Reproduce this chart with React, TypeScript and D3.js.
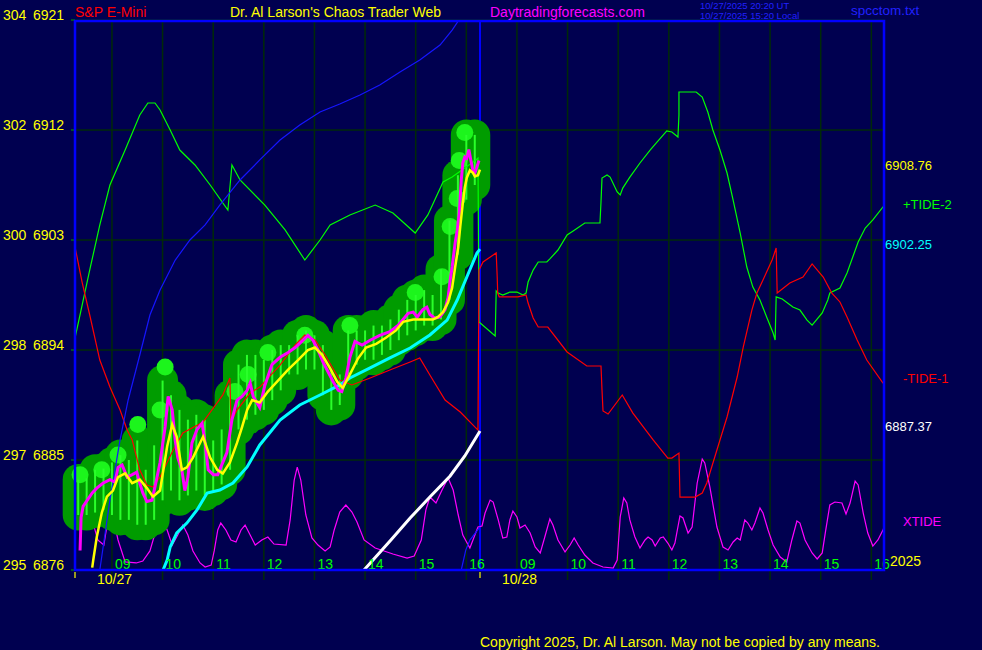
import React from 'react';
import * as d3 from 'd3';

// ---------- layout ----------
const W = 982, H = 650;
const L = 75, R = 885, T = 20, B = 570, BRK = 480;

// ---------- axes ----------
// time = clock hours; 10/28 hours carry +24
const sessionStops = [8.27, 16.27, 32.27, 40.27];
const priceDomain = [6876, 6921];
const gridPrices = [6876, 6885, 6894, 6903, 6912, 6921];
const etfLabels = ['295', '297', '298', '300', '302', '304'];
const hourTicks = [9, 10, 11, 12, 13, 14, 15, 16, 33, 34, 35, 36, 37, 38, 39, 40];
const hourLabels = ['09', '10', '11', '12', '13', '14', '15', '16', '09', '10', '11', '12', '13', '14', '15', '16'];
const dayLabels = [{ t: 8.27, s: '10/27' }, { t: 32.27, s: '10/28' }];

// ---------- price bars (10 min) ----------
const barTimes = ['08:20','08:30','08:40','08:50','09:00','09:10','09:20','09:30','09:40','09:50','10:00','10:10','10:20','10:30','10:40','10:50','11:00','11:10','11:20','11:30','11:40','11:50','12:00','12:10','12:20','12:30','12:40','12:50','13:00','13:10','13:20','13:30','13:40','13:50','14:00','14:10','14:20','14:30','14:40','14:50','15:00','15:10','15:20','15:30','15:40','15:50','16:00','16:10'];
const barHigh = [6883.4,6883.5,6884.2,6884.3,6884.8,6885.4,6885.0,6886.6,6884.2,6886.2,
  6891.5,6890.3,6889.1,6888.3,6888.7,6888.3,6886.6,6887.5,6890.3,6892.8,
  6893.6,6893.6,6893.2,6894.0,6894.4,6894.4,6895.2,6895.6,6895.2,6894.4,
  6892.4,6892.0,6895.6,6895.6,6895.6,6896.0,6896.0,6896.5,6897.3,6898.1,
  6898.5,6898.9,6898.5,6900.6,6904.6,6908.3,6911.6,6911.6];
const barLow = [6880.5,6880.5,6880.7,6880.9,6880.5,6880.1,6880.1,6879.7,6879.7,6880.1,
  6881.7,6882.5,6881.7,6882.1,6882.5,6882.1,6882.5,6883.0,6884.2,6887.5,
  6888.3,6888.7,6889.1,6889.9,6890.7,6892.0,6892.0,6892.4,6892.4,6890.3,
  6889.1,6889.5,6892.0,6892.8,6893.2,6893.2,6893.6,6894.0,6894.8,6895.2,
  6895.6,6896.0,6896.0,6896.5,6898.1,6901.8,6906.3,6907.5];
const peakMarks: [number, number][] = [[8.37,6883.8],[8.80,6884.2],[9.12,6885.4],[9.51,6887.9],[9.95,6889.1],[10.05,6892.6],[11.43,6890.6],[11.69,6892.0],[12.08,6893.8],[12.81,6895.2],[13.70,6896.0],[14.99,6898.7],[15.52,6900.0],[15.68,6904.1],[15.82,6906.4],[15.86,6909.5],[15.97,6911.8]];

// ---------- price close (magenta) ----------
const closeSeries: [number, number][] = [[8.37,6877.6],[8.39,6880.3],[8.43,6881.2],[8.51,6881.7],[8.61,6882.3],[8.70,6882.7],[8.82,6883.1],[8.96,6883.4],[9.06,6883.2],[9.12,6884.4],[9.20,6884.6],[9.30,6883.6],[9.40,6883.8],[9.49,6884.0],[9.55,6883.1],[9.61,6882.3],[9.69,6881.6],[9.79,6881.7],[9.85,6882.8],[9.95,6884.8],[10.05,6887.7],[10.11,6890.2],[10.19,6889.1],[10.25,6886.6],[10.30,6885.2],[10.38,6884.2],[10.44,6882.5],[10.50,6883.6],[10.58,6886.4],[10.68,6887.5],[10.78,6888.0],[10.84,6886.4],[10.90,6884.2],[11.00,6883.8],[11.09,6883.8],[11.19,6884.8],[11.27,6885.6],[11.37,6888.3],[11.47,6889.9],[11.57,6890.2],[11.67,6890.7],[11.73,6891.3],[11.79,6890.2],[11.92,6889.3],
  [12.02,6891.1],[12.16,6892.8],[12.32,6893.4],[12.48,6893.8],[12.62,6894.2],[12.75,6894.7],[12.87,6895.2],[12.97,6894.8],[13.07,6894.0],[13.17,6893.0],[13.27,6892.2],[13.37,6891.4],[13.47,6890.7],[13.54,6890.6],[13.62,6891.7],[13.70,6893.4],[13.80,6894.7],[13.94,6894.4],[14.10,6894.8],[14.29,6895.2],[14.49,6895.5],[14.65,6896.0],[14.75,6896.5],
  [14.85,6897.0],[14.95,6897.1],[15.03,6896.7],[15.14,6897.3],[15.22,6897.5],[15.28,6896.9],[15.38,6896.6],[15.48,6896.7],[15.58,6897.3],[15.64,6898.3],[15.68,6899.7],[15.72,6900.8],[15.78,6902.8],[15.82,6903.8],[15.86,6905.2],[15.88,6906.5],[15.90,6907.9],[15.93,6909.3],[15.97,6909.8],[16.01,6909.7],[16.05,6910.4],[16.09,6909.5],[16.13,6908.7],[16.17,6908.5],[16.21,6909.0],[16.25,6909.5]];

// ---------- moving average (yellow) ----------
const avgSeries: [number, number][] = [[8.61,6876.2],[8.63,6876.8],[8.70,6878.7],[8.80,6880.7],[8.90,6882.0],[9.02,6882.5],[9.12,6883.6],[9.26,6883.9],[9.40,6883.1],[9.55,6883.4],[9.69,6882.7],[9.81,6882.0],[9.95,6882.5],[10.09,6886.1],[10.19,6887.9],[10.28,6886.9],[10.38,6884.2],[10.48,6884.4],[10.60,6885.2],[10.80,6886.9],[10.94,6885.2],[11.08,6884.2],[11.19,6883.9],[11.33,6884.8],[11.47,6886.4],[11.57,6887.7],[11.67,6889.1],[11.77,6889.9],[11.92,6889.7],[12.08,6890.6],[12.28,6891.5],[12.48,6892.4],[12.68,6893.2],[12.87,6894.0],[13.01,6894.2],[13.15,6893.6],[13.31,6892.5],[13.45,6891.4],[13.56,6890.9],[13.70,6892.0],[13.86,6893.3],[14.02,6894.2],[14.22,6894.5],[14.41,6895.0],[14.61,6895.6],[14.75,6896.3],[14.95,6896.5],[15.14,6896.5],[15.34,6896.5],[15.44,6896.7],[15.54,6897.1],[15.64,6897.9],[15.72,6899.1],[15.78,6900.8],[15.84,6902.4],[15.88,6904.1],[15.93,6906.0],[15.97,6907.3],[16.01,6908.1],[16.07,6908.7],[16.13,6908.5],[16.17,6908.2],[16.23,6908.3],[16.27,6908.76]];

// ---------- tides ----------
const tide2: [number, number][] = [[8.27,6894.98],[8.57,6900.71],[8.76,6904.23],[8.96,6907.5],[9.26,6910.36],[9.55,6913.23],[9.71,6914.21],[9.85,6914.21],[9.95,6913.64],[10.15,6912.0],[10.34,6910.36],[10.64,6909.14],[10.94,6907.5],[11.29,6905.45],[11.37,6909.14],[11.53,6907.91],[12.02,6905.86],[12.42,6903.82],[12.81,6901.36],[13.11,6903.0],[13.31,6904.23],[13.70,6905.05],[14.20,6905.86],[14.55,6905.21],[14.99,6903.57],[15.24,6905.05],[15.54,6907.75],[15.72,6908.15],[16.19,6909.55],[16.23,6909.7],[16.25,6896.3],
  [32.57,6895.15],[32.59,6898.83],[32.63,6898.66],[32.72,6898.5],[32.86,6898.74],[33.00,6898.74],[33.12,6898.5],[33.18,6898.66],[33.22,6899.56],[33.32,6900.54],[33.42,6901.2],[33.59,6901.2],[33.65,6901.45],[33.81,6902.18],[33.99,6903.41],[34.11,6903.74],[34.34,6904.39],[34.64,6904.39],[34.66,6906.11],[34.68,6908.07],[34.78,6908.32],[34.84,6908.15],[34.98,6906.93],[35.04,6906.68],[35.09,6907.25],[35.23,6908.15],[35.43,6909.3],[35.63,6910.36],[35.77,6911.02],[35.96,6911.92],[36.06,6911.84],[36.18,6911.43],[36.20,6913.23],[36.20,6915.11],[36.54,6915.11],[36.66,6914.7],[36.77,6913.47],[36.87,6912.0],[37.01,6910.36],[37.15,6908.48],[37.27,6906.27],[37.41,6903.57],[37.54,6900.79],[37.66,6899.15],[37.80,6898.09],[37.94,6896.62],[38.06,6895.39],[38.10,6894.82],[38.12,6898.34],[38.24,6898.17],[38.45,6897.52],[38.59,6897.27],[38.73,6896.45],[38.83,6896.04],[39.03,6897.03],[39.14,6898.09],[39.18,6898.66],[39.38,6899.07],[39.52,6900.3],[39.74,6902.84],[39.88,6903.98],[40.03,6904.64],[40.23,6905.7],[40.27,6905.62]];

const tide1: [number, number][] = [[8.27,6902.43],[8.41,6899.56],[8.57,6896.7],[8.76,6893.18],[8.96,6890.97],[9.16,6889.09],[9.30,6887.45],[9.40,6886.64],[9.55,6884.18],[9.69,6882.95],[9.81,6882.79],[9.95,6883.61],[10.21,6885.82],[10.40,6887.21],[10.80,6888.11],[11.19,6890.32],[11.33,6891.71],[11.35,6888.11],[11.47,6889.09],[11.73,6890.48],[11.92,6890.97],[12.32,6892.77],[12.62,6894.41],[12.81,6895.23],[13.01,6894.82],[13.21,6893.59],[13.50,6891.55],[13.74,6891.14],[14.10,6891.71],[14.49,6892.36],[14.89,6893.02],[15.08,6893.35],[15.28,6891.95],[15.58,6889.91],[15.88,6888.93],[16.23,6887.45],[16.25,6900.54],
  [32.33,6901.2],[32.59,6901.94],[32.61,6899.97],[32.62,6898.66],[32.65,6898.34],[32.80,6898.34],[33.02,6898.34],[33.18,6898.5],[33.22,6897.84],[33.32,6896.62],[33.42,6895.88],[33.61,6895.88],[33.99,6893.84],[34.38,6892.69],[34.66,6892.69],[34.68,6890.73],[34.70,6889.01],[34.80,6888.76],[35.08,6890.32],[35.29,6888.84],[35.69,6886.64],[35.98,6885.16],[36.06,6885.16],[36.20,6885.57],[36.22,6881.97],[36.52,6881.97],[36.66,6882.3],[36.75,6883.12],[36.95,6885.82],[37.15,6888.52],[37.35,6891.79],[37.47,6894.24],[37.64,6897.27],[37.74,6898.66],[37.86,6899.73],[38.04,6901.36],[38.12,6902.34],[38.14,6898.66],[38.39,6899.48],[38.65,6899.97],[38.83,6901.04],[39.05,6899.97],[39.22,6898.66],[39.38,6897.93],[39.52,6896.7],[39.72,6894.82],[39.91,6893.18],[40.23,6891.3],[40.27,6891.2]];

const blueRiseA: [number, number][] = [[8.76,6876.0],[8.96,6881.73],[9.16,6886.64],[9.32,6889.91],[9.55,6893.59],[9.75,6896.86],[9.95,6898.91],[10.25,6901.36],[10.54,6903.0],[10.84,6904.23],[11.13,6905.86],[11.53,6907.91],[11.92,6909.55],[12.32,6911.18],[12.71,6912.41],[13.11,6913.47],[13.50,6914.13],[13.90,6914.86],[14.29,6915.68],[14.69,6916.75],[15.08,6917.73],[15.48,6918.95],[15.72,6920.18],[15.88,6921.16]];
const blueRiseB: [number, number][] = [[15.90,6876.0],[15.99,6877.64],[16.07,6878.45],[16.27,6879.52]];

const cyanLine: [number, number][] = [[10.01,6876.0],[10.09,6876.82],[10.15,6877.88],[10.28,6879.03],[10.48,6879.84],[10.68,6880.91],[10.88,6882.3],[11.13,6882.54],[11.39,6883.12],[11.67,6884.43],[11.92,6886.23],[12.32,6888.27],[12.71,6889.5],[13.11,6890.32],[13.50,6891.14],[13.70,6891.71],[14.10,6892.53],[14.49,6893.35],[14.89,6894.16],[15.28,6895.23],[15.62,6896.45],[15.82,6898.09],[16.01,6899.97],[16.21,6901.94],[16.27,6902.25]];

const whiteLine: [number, number][] = [[13.98,6876.0],[14.51,6878.45],[14.89,6880.25],[15.28,6881.97],[15.68,6883.69],[15.97,6885.33],[16.27,6887.37]];

// XTIDE in its own 0..100 units
const xtide: [number, number][] = [[8.27,45.5],[8.37,52.7],[8.49,56.4],[8.61,45.5],[8.72,27.3],[8.84,22.7],[8.92,45.5],[9.00,52.7],[9.12,27.3],[9.26,7.3],[9.48,6.4],[9.61,8.2],[9.75,17.3],[9.87,36.4],[9.99,47.3],[10.09,36.4],[10.19,22.7],[10.30,31.8],[10.40,40.9],[10.50,31.8],[10.60,17.3],[10.74,6.4],[10.84,2.7],[10.96,4.5],[11.02,17.3],[11.09,36.4],[11.15,42.7],[11.25,36.4],[11.35,27.3],[11.45,25.5],[11.55,36.4],[11.63,40.9],[11.73,31.8],[11.83,22.7],[11.96,27.3],[12.08,30.0],[12.20,23.6],[12.44,22.7],[12.52,45.5],[12.60,81.8],[12.66,93.6],[12.73,81.8],[12.83,50.0],[12.95,29.1],[13.07,22.7],[13.21,17.3],[13.31,20.9],[13.39,36.4],[13.50,52.7],[13.62,59.1],[13.74,52.7],[13.84,43.6],[13.98,27.3],[14.20,20.0],[14.55,14.5],[14.83,10.9],[14.97,12.7],[15.11,27.3],[15.20,54.5],[15.28,66.4],[15.40,60.9],[15.52,72.7],[15.64,83.6],[15.74,72.7],[15.84,50.0],[15.93,31.8],[16.07,20.0],[16.23,39.1],
  [32.31,40.0],[32.37,51.8],[32.47,63.6],[32.53,61.8],[32.63,45.5],[32.72,29.1],[32.80,30.0],[32.86,45.5],[32.92,53.6],[33.00,48.2],[33.06,38.2],[33.16,40.9],[33.26,33.6],[33.36,20.9],[33.46,15.5],[33.55,30.0],[33.65,46.4],[33.71,40.9],[33.81,27.3],[33.95,16.4],[34.05,22.7],[34.13,29.1],[34.21,22.7],[34.34,13.6],[34.50,6.4],[34.70,2.7],[34.90,1.8],[34.98,9.1],[35.04,48.2],[35.11,65.5],[35.17,60.9],[35.23,45.5],[35.33,30.0],[35.43,20.0],[35.53,27.3],[35.59,30.0],[35.67,27.3],[35.73,21.8],[35.83,29.1],[35.89,30.0],[35.98,24.5],[36.06,18.2],[36.12,24.5],[36.22,49.1],[36.28,47.3],[36.38,33.6],[36.46,39.1],[36.56,79.1],[36.66,100.9],[36.71,97.3],[36.81,75.5],[36.95,39.1],[37.07,20.9],[37.17,18.2],[37.27,25.5],[37.35,29.1],[37.41,27.3],[37.50,45.5],[37.56,42.7],[37.64,36.4],[37.70,42.7],[37.80,56.4],[37.86,51.8],[37.96,36.4],[38.06,22.7],[38.20,11.8],[38.33,7.3],[38.43,27.3],[38.53,44.5],[38.59,42.7],[38.69,27.3],[38.83,15.5],[38.93,10.0],[39.03,15.5],[39.09,33.6],[39.18,59.1],[39.28,61.8],[39.42,60.9],[39.50,50.9],[39.58,60.9],[39.68,80.9],[39.74,77.3],[39.84,51.8],[39.93,33.6],[40.03,21.8],[40.13,27.3],[40.23,36.4],[40.27,40.9]];

// right-side value labels
const lastMA = 6908.76, lastCyan = 6902.25, lastWhite = 6887.37;

// ---------- colours ----------
const BG = '#000050';
const GRID = '#002a08';
const BORDER = '#0000ff';
const FONT = '"Liberation Sans", Arial, sans-serif';

const parseHM = (s: string) => { const [h, m] = s.split(':').map(Number); return h + m / 60; };

export default function App() {
  const x = d3.scaleLinear().domain(sessionStops).range([L, BRK, BRK, R]);
  const y = d3.scaleLinear().domain(priceDomain).range([B, T]);
  const yx = d3.scaleLinear().domain([0, 100]).range([B, B - 110]);
  const line = d3.line<[number, number]>().x(d => x(d[0])).y(d => y(d[1]));
  const xline = d3.line<[number, number]>().x(d => x(d[0])).y(d => yx(d[1]));

  return (
    <svg width={W} height={H} style={{ position: 'absolute', left: 0, top: 0, display: 'block' }} fontFamily={FONT}>
      <defs>
        <clipPath id="plotClip"><rect x={L} y={T} width={R - L} height={B - T} /></clipPath>
      </defs>
      <rect x={0} y={0} width={W} height={H} fill={BG} />

      {/* grid */}
      {hourTicks.map((h, i) => (
        <line key={'v' + i} x1={x(h)} x2={x(h)} y1={T} y2={580} stroke={GRID} strokeWidth={1.5} />
      ))}
      {gridPrices.map((p, i) => (
        <g key={'h' + i}>
          <line x1={L} x2={R} y1={y(p)} y2={y(p)} stroke={GRID} strokeWidth={1.5} />
          <line x1={71} x2={L} y1={y(p)} y2={y(p)} stroke="#008a00" strokeWidth={1.2} />
        </g>
      ))}

      {/* left labels */}
      {gridPrices.map((p, i) => (
        <g key={'ll' + i} fill="#ffff00" fontSize={14}>
          <text x={3} y={y(p)}>{etfLabels[i]}</text>
          <text x={33} y={y(p)}>{p}</text>
        </g>
      ))}

      {/* day separator */}
      <line x1={BRK} x2={BRK} y1={T} y2={B} stroke={BORDER} strokeWidth={2} />

      {/* XTIDE under the price blob */}
      <g clipPath="url(#plotClip)">
        <path d={xline(xtide) || ''} fill="none" stroke="#ff00ff" strokeWidth={1.2} />
      </g>

      {/* price blob */}
      {barTimes.map((s, i) => (
        <line key={'bl' + i} x1={x(parseHM(s))} x2={x(parseHM(s))} y1={y(barHigh[i])} y2={y(barLow[i])}
          stroke="#009c00" strokeWidth={31} strokeLinecap="round" />
      ))}
      {peakMarks.map((d, i) => (
        <circle key={'pk' + i} cx={x(d[0])} cy={y(d[1])} r={8.5} fill="#1cf51c" />
      ))}
      {barTimes.map((s, i) => (
        <line key={'lb' + i} x1={x(parseHM(s))} x2={x(parseHM(s))} y1={y(barHigh[i])} y2={y(barLow[i])}
          stroke="#2aff2a" strokeWidth={2} />
      ))}

      <g clipPath="url(#plotClip)">
        <path d={line(tide2) || ''} fill="none" stroke="#00ff00" strokeWidth={1.2} />
        <path d={line(tide1) || ''} fill="none" stroke="#ff0000" strokeWidth={1.2} />
        <path d={line(blueRiseA) || ''} fill="none" stroke="#1515ff" strokeWidth={1.2} />
        <path d={line(blueRiseB) || ''} fill="none" stroke="#1515ff" strokeWidth={1.2} />
        <path d={line(cyanLine) || ''} fill="none" stroke="#00ffff" strokeWidth={3} />
        <path d={line(whiteLine) || ''} fill="none" stroke="#ffffff" strokeWidth={3} />
        <path d={line(closeSeries) || ''} fill="none" stroke="#ff00ff" strokeWidth={3} />
        <path d={line(avgSeries) || ''} fill="none" stroke="#ffff00" strokeWidth={2.5} />
      </g>

      {/* hour labels */}
      {hourTicks.map((h, i) => (
        <text key={'hl' + i} x={x(h) + 3} y={569} fill="#00ff00" fontSize={14}>{hourLabels[i]}</text>
      ))}

      {/* border */}
      <rect x={L} y={T + 1} width={R - L - 1} height={B - T - 1} fill="none" stroke={BORDER} strokeWidth={2.5} />

      {/* day labels and ticks */}
      {dayLabels.map((d, i) => (
        <g key={'dl' + i}>
          <line x1={x(d.t)} x2={x(d.t)} y1={572} y2={578} stroke="#ffff00" strokeWidth={1.2} />
          <text x={x(d.t) + 22} y={584} fill="#ffff00" fontSize={14}>{d.s}</text>
        </g>
      ))}
      <text x={890} y={566} fill="#ffff00" fontSize={14}>2025</text>

      {/* right labels */}
      <text x={885} y={170} fill="#ffff00" fontSize={13}>{lastMA.toFixed(2)}</text>
      <text x={903} y={209} fill="#00ff00" fontSize={13}>+TIDE-2</text>
      <text x={885} y={249} fill="#00ffff" fontSize={13}>{lastCyan.toFixed(2)}</text>
      <text x={903} y={383} fill="#ff0000" fontSize={13}>-TIDE-1</text>
      <text x={885} y={431} fill="#ffffff" fontSize={13}>{lastWhite.toFixed(2)}</text>
      <text x={903} y={526} fill="#ff00ff" fontSize={13}>XTIDE</text>

      {/* header */}
      <text x={75} y={17} fill="#ff0000" fontSize={14}>S&amp;P E-Mini</text>
      <text x={230} y={17} fill="#ffff00" fontSize={14}>Dr. Al Larson's Chaos Trader Web</text>
      <text x={490} y={17} fill="#ff00ff" fontSize={14}>Daytradingforecasts.com</text>
      <text x={700} y={9} fill="#2020ff" fontSize={9.5}>10/27/2025 20:20 UT</text>
      <text x={700} y={19} fill="#2020ff" fontSize={9.5}>10/27/2025 15:20 Local</text>
      <text x={851} y={15} fill="#2020ff" fontSize={13.5}>spcctom.txt</text>

      <text x={480} y={647} fill="#ffff00" fontSize={14}>Copyright 2025, Dr. Al Larson. May not be copied by any means.</text>
    </svg>
  );
}
